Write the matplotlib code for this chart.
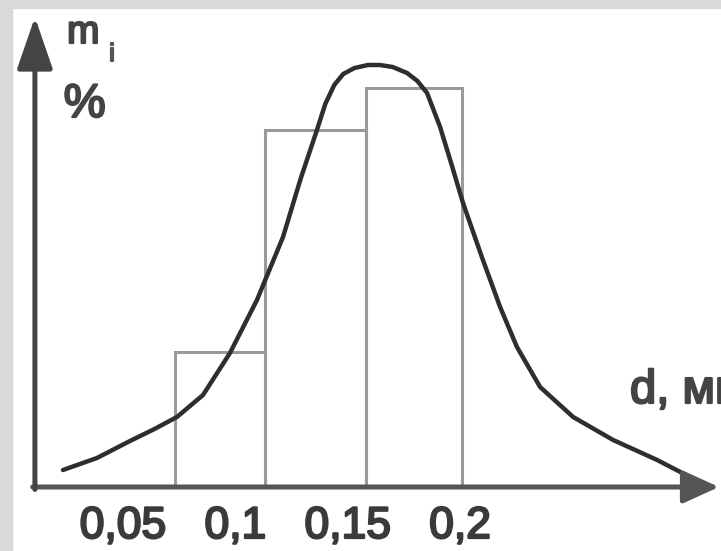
import matplotlib.pyplot as plt
import matplotlib.patheffects as pe
from matplotlib.patches import Rectangle

# histogram bins (d, mm) and heights (m_i, %)
bin_edges = [0.073, 0.113, 0.158, 0.201]
bin_heights = [13.5, 35.7, 39.9]

# smooth distribution curve
curve_d = [0.0233, 0.0384, 0.0531, 0.0640, 0.0740, 0.0856, 0.0976, 0.1096,
           0.1212, 0.1290, 0.1363, 0.1400, 0.1440, 0.1480, 0.1530, 0.1590,
           0.1644, 0.1700, 0.1764, 0.1810, 0.1853, 0.1911, 0.1960, 0.2013,
           0.2100, 0.2178, 0.2253, 0.2356, 0.2503, 0.2681, 0.2877, 0.3023]
curve_m = [1.7, 2.9, 4.6, 5.8, 7.0, 9.2, 13.4, 18.7,
           25.0, 30.8, 35.7, 38.3, 40.2, 41.3, 41.9, 42.2,
           42.2, 42.0, 41.4, 40.6, 39.4, 36.0, 32.4, 28.4,
           22.8, 18.0, 14.0, 10.0, 7.0, 4.7, 2.7, 1.0]

tick_vals = [0.05, 0.1, 0.15, 0.2]
tick_labels = ['0,05', '0,1', '0,15', '0,2']

plt.rcParams['font.family'] = ['Liberation Sans', 'DejaVu Sans']

fig = plt.figure(figsize=(7.21, 5.51), dpi=100)
ax = fig.add_axes([0, 0, 1, 1])
ax.set_xlim(-0.00474, 0.3161)
ax.set_ylim(-6.4, 48.7)
ax.axis('off')

# grey scanned border on the left and top
fig.patches.append(Rectangle((0, 0), 12 / 721, 1, transform=fig.transFigure,
                             color='#d9d9d9', zorder=0))
fig.patches.append(Rectangle((0, 1 - 8 / 551), 1, 8 / 551, transform=fig.transFigure,
                             color='#d9d9d9', zorder=0))

widths = [bin_edges[i + 1] - bin_edges[i] for i in range(len(bin_heights))]
ax.bar(bin_edges[:-1], bin_heights, width=widths, align='edge',
       fill=False, edgecolor='#9a9a9a', linewidth=2.2, zorder=2)

ax.plot(curve_d, curve_m, color='#2e2e2e', linewidth=3.2, solid_capstyle='round',
        solid_joinstyle='round', zorder=3)

# axes with arrows
x0 = 0.0108
ax.annotate('', xy=(0.3152, 0), xytext=(x0 - 0.001, 0),
            arrowprops=dict(arrowstyle='-|>,head_length=2.2,head_width=1.0',
                            mutation_scale=10, lw=3.6, color='#555555',
                            shrinkA=0, shrinkB=0), zorder=4)
ax.annotate('', xy=(x0, 47.0), xytext=(x0, -0.25),
            arrowprops=dict(arrowstyle='-|>,head_length=3.2,head_width=1.1',
                            mutation_scale=10, lw=3.6, color='#444444',
                            shrinkA=0, shrinkB=0), zorder=4)


def semi(color):
    return [pe.withStroke(linewidth=1.6, foreground=color)]


for v, lab in zip(tick_vals, tick_labels):
    ax.text(v, -5.1, lab, ha='center', va='baseline', fontsize=32,
            color='#3a3a3a', path_effects=semi('#3a3a3a'))

ax.text(0.0251, 44.4, 'm', fontsize=28, color='#444444', va='baseline',
        path_effects=semi('#444444'))
ax.text(0.0440, 42.6, 'i', fontsize=18, color='#555555', va='baseline',
        path_effects=semi('#555555'))
ax.text(0.0236, 37.0, '%', fontsize=34, color='#444444', va='baseline',
        path_effects=semi('#444444'))
ax.text(0.2756, 8.4, 'd, мм', fontsize=34, color='#444444', va='baseline',
        path_effects=semi('#444444'))

plt.savefig('out.png', dpi=100)
